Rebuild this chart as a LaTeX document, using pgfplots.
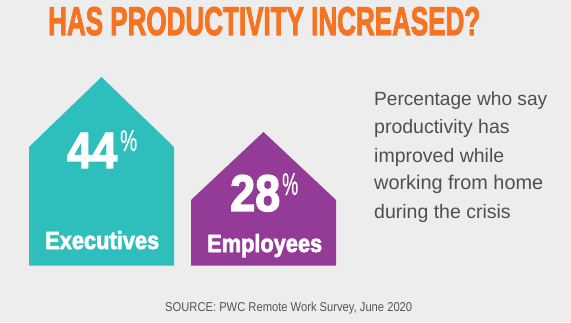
\documentclass[border=0pt]{standalone}
\usepackage{fontspec}
\setmainfont{Liberation Sans}
\newfontfamily\heavy[FakeBold=2.8]{Liberation Sans Bold}
\newfontfamily\medfont[FakeBold=0.6]{Liberation Sans}
\usepackage{graphicx}
\usepackage{pgfplots}
\pgfplotsset{compat=1.18}
\definecolor{bgc}{HTML}{EDEDED}
\definecolor{teal1}{HTML}{2EBFBD}
\definecolor{purp}{HTML}{933B96}
\definecolor{orng}{HTML}{F57321}
\definecolor{txtgray}{HTML}{4F4F4F}
\definecolor{srcgray}{HTML}{555555}
\begin{document}
\begin{tikzpicture}
\begin{axis}[width=571pt,height=322pt,scale only axis,
  xmin=0,xmax=571,ymin=0,ymax=322,
  axis line style={draw=none}, xtick=\empty, ytick=\empty,
  axis background/.style={fill=bgc}, clip=false]
% house-shaped bars (pixel geometry)
\addplot[fill=teal1, draw=none] coordinates {(29,56.4) (29,175) (101.5,245) (174,175) (174,56.4)} -- cycle;
\addplot[fill=purp, draw=none] coordinates {(191,56.4) (191,122) (263.5,190) (336,122) (336,56.4)} -- cycle;
% title
\node[anchor=base west, inner sep=0, text=orng] at (axis cs:48,287) {\resizebox{432pt}{28pt}{\heavy HAS PRODUCTIVITY INCREASED?}};
% labels
\node[anchor=base west, inner sep=0, text=white] at (axis cs:67,154) {\resizebox{50pt}{35pt}{\heavy 44}};
\node[anchor=base west, inner sep=0, text=white] at (axis cs:120,171) {\resizebox{17pt}{21pt}{\medfont\%}};
\node[anchor=base west, inner sep=0, text=white] at (axis cs:45,73) {\resizebox{114pt}{18pt}{\heavy Executives}};
\node[anchor=base west, inner sep=0, text=white] at (axis cs:230,111) {\resizebox{50pt}{36pt}{\heavy 28}};
\node[anchor=base west, inner sep=0, text=white] at (axis cs:282,127) {\resizebox{16pt}{22pt}{\medfont\%}};
\node[anchor=base west, inner sep=0, text=white] at (axis cs:207,70) {\resizebox{115pt}{18pt}{\heavy Employees}};
% side text
\node[anchor=base west, inner sep=0, text=txtgray] at (axis cs:374,216) {\resizebox{173pt}{!}{\fontsize{19.5}{20}\selectfont Percentage who say}};
\node[anchor=base west, inner sep=0, text=txtgray] at (axis cs:374,188) {\fontsize{19.5}{20}\selectfont productivity has};
\node[anchor=base west, inner sep=0, text=txtgray] at (axis cs:374,160) {\fontsize{19.5}{20}\selectfont improved while};
\node[anchor=base west, inner sep=0, text=txtgray] at (axis cs:374,132) {\resizebox{169pt}{!}{\fontsize{19.5}{20}\selectfont working from home}};
\node[anchor=base west, inner sep=0, text=txtgray] at (axis cs:374,104) {\fontsize{19.5}{20}\selectfont during the crisis};
% source
\node[anchor=base west, inner sep=0, text=srcgray] at (axis cs:165,11) {\resizebox{247pt}{9.3pt}{SOURCE: PWC Remote Work Survey, June 2020}};
\end{axis}
\end{tikzpicture}
\end{document}
